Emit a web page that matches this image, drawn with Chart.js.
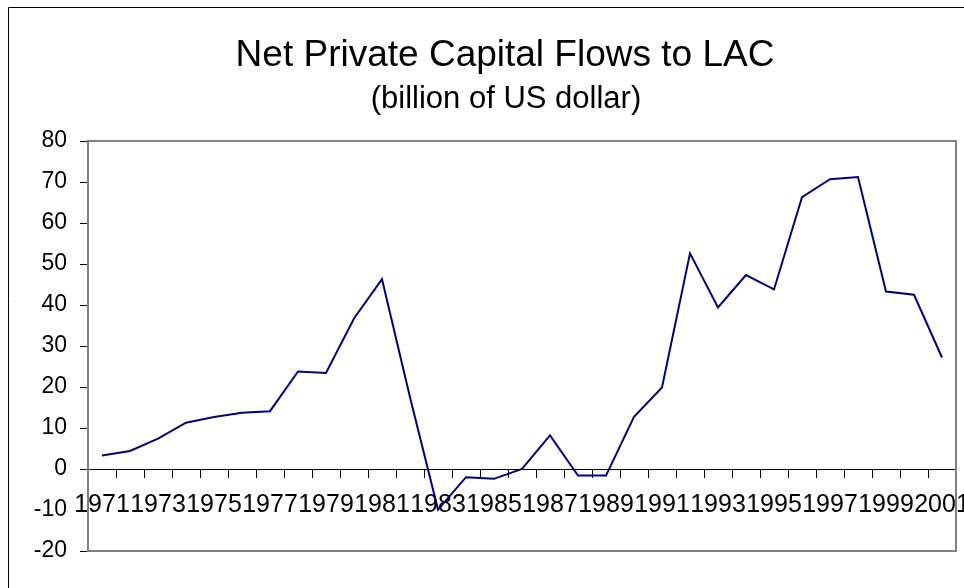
<!DOCTYPE html>
<html lang="en">
<head>
  <meta charset="UTF-8" />
  <title>Net Private Capital Flows to LAC</title>
  <script src="https://cdn.jsdelivr.net/npm/chart.js"></script>
  <style>
    html, body { margin: 0; padding: 0; background: #fff; }
    #wrap { width: 964px; height: 588px; position: relative; }
  </style>
</head>
<body>
  <div id="wrap"><canvas id="flowChart"></canvas></div>

  <script>
    // years 1971-2001
    const years = ['1971','1972','1973','1974','1975','1976','1977','1978','1979','1980',
                   '1981','1982','1983','1984','1985','1986','1987','1988','1989','1990',
                   '1991','1992','1993','1994','1995','1996','1997','1998','1999','2000','2001'];

    // net private capital flows, billion US$
    const flows = [3.3, 4.4, 7.4, 11.3, 12.7, 13.7, 14.1, 23.8, 23.4, 36.7,
                   46.3, 17.5, -9.9, -2.0, -2.4, 0.0, 8.2, -1.6, -1.6, 12.7,
                   19.9, 52.6, 39.4, 47.3, 43.8, 66.3, 70.7, 71.2, 43.3, 42.5, 27.2];

    const yMin = -20, yMax = 80, yStep = 10;

    const titleText = 'Net Private Capital Flows to LAC';
    const subtitleText = '(billion of US dollar)';

    const font = "'Liberation Sans', Arial, sans-serif";

    // outer frame, plot frame and titles
    const framePlugin = {
      id: 'frame',
      beforeDatasetsDraw(chart) {
        const { ctx, chartArea: a } = chart;
        ctx.save();
        ctx.strokeStyle = '#808080';
        ctx.lineWidth = 2;
        ctx.strokeRect(a.left, a.top, a.right - a.left, a.bottom - a.top);
        ctx.restore();
      },
      afterDraw(chart) {
        const { ctx } = chart;
        ctx.save();
        ctx.strokeStyle = '#000';
        ctx.lineWidth = 1;
        ctx.beginPath();
        ctx.moveTo(8.5, 600);
        ctx.lineTo(8.5, 7.5);
        ctx.lineTo(970, 7.5);
        ctx.stroke();

        ctx.fillStyle = '#000';
        ctx.textAlign = 'center';
        ctx.textBaseline = 'alphabetic';
        ctx.font = '37px ' + font;
        ctx.fillText(titleText, 505, 66);
        ctx.font = '31px ' + font;
        ctx.fillText(subtitleText, 506, 108);
        ctx.restore();
      }
    };

    const ctx = document.getElementById('flowChart').getContext('2d');
    new Chart(ctx, {
      type: 'line',
      data: {
        labels: years,
        datasets: [{
          data: flows,
          borderColor: '#000080',
          borderWidth: 2,
          pointRadius: 0,
          tension: 0,
          fill: false
        }]
      },
      options: {
        responsive: true,
        maintainAspectRatio: false,
        animation: false,
        layout: { padding: { left: 0, top: 141, right: 8, bottom: 37 } },
        plugins: {
          legend: { display: false },
          tooltip: { enabled: false }
        },
        scales: {
          x: {
            type: 'category',
            position: { y: 0 },
            offset: true,
            afterFit(scale) { scale.paddingLeft = 0; scale.paddingRight = 0; },
            grid: {
              offset: true,
              drawOnChartArea: false,
              drawTicks: true,
              tickLength: 8,
              color: '#000'
            },
            border: { display: true, color: '#000', width: 1 },
            ticks: {
              autoSkip: false,
              maxRotation: 0,
              minRotation: 0,
              padding: 13,
              color: '#000',
              font: { family: font, size: 25 },
              callback: function (val, i) { return i % 2 === 0 ? this.getLabelForValue(val) : ''; }
            }
          },
          y: {
            min: yMin,
            max: yMax,
            afterFit(scale) { scale.width = 88; },
            grid: {
              drawOnChartArea: false,
              drawTicks: true,
              tickLength: 8,
              color: '#000'
            },
            border: { display: true, color: '#000', width: 1 },
            ticks: {
              stepSize: yStep,
              padding: 13,
              color: '#000',
              font: { family: font, size: 23 }
            }
          }
        }
      },
      plugins: [framePlugin]
    });
  </script>
</body>
</html>
